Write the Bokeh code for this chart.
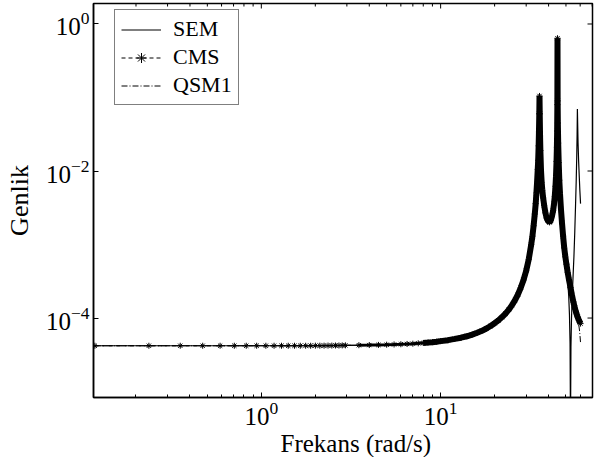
import math
from bokeh.plotting import figure
from bokeh.models import (FixedTicker, LogTickFormatter, Legend, Title,
                          LegendItem, Range1d, ColumnDataSource)
from bokeh.embed import file_html
from bokeh.resources import INLINE

# CMS frequency response: frequency (rad/s) and amplitude
cms_freq = [0.118, 0.236, 0.353, 0.471, 0.589, 0.707, 0.824, 0.942, 1.060, 1.178,
            1.296, 1.413, 1.531, 1.649, 1.767, 1.884, 2.002, 2.120, 2.238, 2.355,
            2.473, 2.591, 2.709, 2.826, 2.944,
            3.5, 4.0, 4.5, 5.0, 5.5, 6.0, 6.5, 7.0, 7.5, 8.0, 8.5, 9.0, 9.5, 10.0,
            11.0, 12.0, 13.0, 14.0, 15.0, 16.0, 17.0, 18.0, 19.0, 20.0, 21.0, 22.0,
            23.0, 24.0, 25.0, 26.0, 27.0, 28.0, 29.0, 30.0, 31.0, 32.0, 32.5, 33.0,
            33.5, 33.9, 34.2, 34.5, 34.8, 35.0, 35.2, 35.35, 35.5, 35.6, 35.7, 35.85,
            36.0, 36.3, 36.6, 36.9, 37.3, 37.8, 38.4, 39.0, 39.7, 40.5, 41.2, 41.8,
            42.4, 42.9, 43.3, 43.7, 44.0, 44.3, 44.5, 44.65, 44.77, 44.85, 44.93,
            45.05, 45.25, 45.55, 45.9, 46.3, 46.9, 47.5, 48.2, 48.9, 49.6, 50.3,
            51.1, 52.0, 53.0, 54.0, 55.0, 56.0, 57.0, 58.0, 59.0, 60.3]
cms_amp = [4.20e-5, 4.20e-5, 4.20e-5, 4.20e-5, 4.20e-5, 4.20e-5, 4.20e-5, 4.20e-5, 4.20e-5, 4.20e-5,
           4.20e-5, 4.20e-5, 4.20e-5, 4.20e-5, 4.20e-5, 4.20e-5, 4.21e-5, 4.21e-5, 4.21e-5, 4.22e-5,
           4.22e-5, 4.23e-5, 4.23e-5, 4.24e-5, 4.25e-5,
           4.27e-5, 4.29e-5, 4.31e-5, 4.34e-5, 4.37e-5, 4.40e-5, 4.44e-5, 4.48e-5, 4.53e-5, 4.58e-5,
           4.64e-5, 4.70e-5, 4.77e-5, 4.85e-5,
           5.0e-5, 5.2e-5, 5.4e-5, 5.65e-5, 5.95e-5, 6.3e-5, 6.7e-5, 7.2e-5, 7.8e-5, 8.5e-5, 9.3e-5,
           1.03e-4, 1.15e-4, 1.30e-4, 1.50e-4, 1.75e-4, 2.1e-4, 2.6e-4, 3.3e-4, 4.4e-4, 6.3e-4,
           1.0e-3, 1.3e-3, 1.8e-3,
           2.6e-3, 3.6e-3, 5.0e-3, 7.0e-3, 1.05e-2, 1.4e-2, 2.2e-2, 3.4e-2, 6.0e-2, 0.105, 6.0e-2,
           3.0e-2, 1.9e-2, 1.0e-2, 7.0e-3, 5.5e-3, 4.3e-3, 3.4e-3, 2.7e-3, 2.3e-3, 2.1e-3, 2.0e-3,
           2.15e-3, 2.45e-3, 2.9e-3, 3.6e-3, 4.5e-3, 6.2e-3, 8.5e-3, 1.35e-2, 2.1e-2, 3.5e-2,
           8.0e-2, 0.64, 9.0e-2, 4.5e-2, 2.4e-2, 1.3e-2, 7.5e-3, 5.0e-3, 3.0e-3, 2.0e-3, 1.3e-3,
           9.0e-4, 6.8e-4, 5.4e-4, 4.2e-4, 3.3e-4, 2.6e-4, 2.05e-4, 1.65e-4, 1.38e-4, 1.18e-4,
           1.04e-4, 9.4e-5, 8.4e-5]

# SEM departs from the reduced models above 48.9 rad/s (antiresonance + third mode)
sem_split = 48.9
sem_tail_freq = [49.6, 50.3, 51.1, 51.8, 52.3, 52.7, 53.0, 53.3, 53.7, 54.2, 54.8, 55.4,
                 56.0, 56.5, 57.0, 57.4, 57.7, 57.9, 58.1, 58.4, 58.8, 59.3, 59.8, 60.3]
sem_tail_amp = [6.5e-4, 4.9e-4, 3.3e-4, 2.0e-4, 1.1e-4, 4.5e-5, 3.0e-6, 4.0e-5, 1.0e-4, 2.0e-4,
                3.8e-4, 7.0e-4, 1.5e-3, 3.2e-3, 7.0e-3, 1.5e-2, 3.2e-2, 7.0e-2, 4.5e-2, 2.4e-2,
                1.4e-2, 8.5e-3, 5.3e-3, 3.6e-3]

# QSM1 departs from CMS only at the top end of the band
qsm_split = 58.0
qsm_tail_freq = [59.0, 59.7, 60.3]
qsm_tail_amp = [8.0e-5, 6.3e-5, 4.6e-5]

x_major = [0.1, 1, 10, 100]
x_minor = [0.2, 0.3, 0.4, 0.5, 0.6, 0.7, 0.8, 0.9,
           2, 3, 4, 5, 6, 7, 8, 9, 20, 30, 40, 50, 60, 70, 80, 90]
y_major = [1e-4, 1e-2, 1]

x_lo, x_hi = 0.1159, 70.3
y_lo, y_hi = 8.3e-6, 1.9

W, H = 594, 457
B_LEFT, B_RIGHT, B_TOP, B_BOTTOM = 93, 2, 3, 60
FONT = "Liberation Serif"


def sx_to_x(sx):
    f = (sx - B_LEFT) / (W - B_LEFT - B_RIGHT)
    a, b = math.log10(x_lo), math.log10(x_hi)
    return 10 ** (a + f * (b - a))


def sy_to_y(sy):
    f = (sy - B_TOP) / (H - B_TOP - B_BOTTOM)
    a, b = math.log10(y_lo), math.log10(y_hi)
    return 10 ** (b - f * (b - a))


sem_freq = [f for f in cms_freq if f <= sem_split] + sem_tail_freq
sem_amp = [a for f, a in zip(cms_freq, cms_amp) if f <= sem_split] + sem_tail_amp
qsm_freq = [f for f in cms_freq if f <= qsm_split] + qsm_tail_freq
qsm_amp = [a for f, a in zip(cms_freq, cms_amp) if f <= qsm_split] + qsm_tail_amp

p = figure(width=W, height=H, x_axis_type="log", y_axis_type="log",
           x_range=Range1d(x_lo, x_hi), y_range=Range1d(y_lo, y_hi),
           output_backend="svg", toolbar_location=None,
           min_border_left=B_LEFT, min_border_right=B_RIGHT,
           min_border_top=B_TOP, min_border_bottom=B_BOTTOM)
p.xgrid.visible = False
p.ygrid.visible = False
p.background_fill_color = "white"
p.border_fill_color = "white"
p.outline_line_color = "black"
p.outline_line_width = 1.5

p.xaxis.ticker = FixedTicker(ticks=x_major, minor_ticks=x_minor)
p.xaxis.minor_tick_in = 3
p.xaxis.minor_tick_out = 0
p.yaxis.ticker = FixedTicker(ticks=y_major, minor_ticks=[])
p.yaxis.minor_tick_in = 0
p.yaxis.minor_tick_out = 0
for ax in p.axis:
    ax.formatter = LogTickFormatter()
    ax.axis_line_color = "black"
    ax.axis_line_width = 1.5
    ax.major_tick_in = 5
    ax.major_tick_out = 0
    ax.major_tick_line_width = 1
    ax.minor_tick_line_width = 1
    ax.major_label_text_font = FONT
    ax.major_label_text_font_size = "25px"
    ax.major_label_text_color = "black"
    ax.axis_label_text_font = FONT
    ax.axis_label_text_font_size = "26px"
    ax.axis_label_text_font_style = "normal"
    ax.axis_label_text_color = "black"
p.xaxis.major_label_standoff = 4
p.yaxis.major_label_standoff = 4
p.yaxis.axis_label = "Genlik"
p.yaxis.axis_label_standoff = 9

# x-axis title, placed a little right of the frame centre
p.add_layout(Title(text="Frekans (rad/s)", align="left", offset=187, standoff=0,
                   text_font=FONT, text_font_size="25px", text_font_style="normal",
                   text_color="black"), "below")

# tick marks mirrored on the top and right edges of the box
top_x = [t for t in x_major + x_minor if x_lo < t < x_hi]
p.segment(x0=top_x, y0=[y_hi] * len(top_x), x1=top_x,
          y1=[sy_to_y(B_TOP + (5 if t in x_major else 3)) for t in top_x],
          line_color="black", line_width=1)
right_y = [t for t in y_major if y_lo < t < y_hi]
p.segment(x0=[x_hi] * len(right_y), y0=right_y,
          x1=[sx_to_x(W - B_RIGHT - 5)] * len(right_y), y1=right_y,
          line_color="black", line_width=1)

src_cms = ColumnDataSource(dict(x=cms_freq, y=cms_amp))
src_sem = ColumnDataSource(dict(x=sem_freq, y=sem_amp))
src_qsm = ColumnDataSource(dict(x=qsm_freq, y=qsm_amp))

# dense CMS markers merge into a thick band over the resonance region
band_lo = [(f, a) for f, a in zip(cms_freq, cms_amp) if 3.0 <= f <= 8.0]
band_hi = [(f, a) for f, a in zip(cms_freq, cms_amp) if f >= 8.0]
p.line([f for f, _ in band_lo], [a for _, a in band_lo], line_color="black", line_width=3)
p.line([f for f, _ in band_hi], [a for _, a in band_hi], line_color="black", line_width=6)

r_sem = p.line("x", "y", source=src_sem, line_color="black", line_width=1.2)
r_cms = p.line("x", "y", source=src_cms, line_color="black", line_width=1,
               line_dash="4 3")
r_cms_m = p.scatter("x", "y", source=src_cms, marker="asterisk", size=6,
                    line_color="black", line_width=1)
r_qsm = p.line("x", "y", source=src_qsm, line_color="black", line_width=1,
               line_dash="6 2 1 2")

legend = Legend(items=[LegendItem(label="SEM", renderers=[r_sem]),
                       LegendItem(label="CMS", renderers=[r_cms, r_cms_m]),
                       LegendItem(label="QSM1", renderers=[r_qsm])],
                location=(21, 292), padding=6, spacing=2, margin=0,
                label_height=25, glyph_height=25, glyph_width=40,
                label_standoff=12, label_text_font=FONT,
                label_text_font_size="22px", label_text_color="black",
                border_line_color="black", border_line_width=1.2,
                background_fill_color="white", background_fill_alpha=1)
p.add_layout(legend)

open("out.html", "w").write(file_html(p, INLINE))
